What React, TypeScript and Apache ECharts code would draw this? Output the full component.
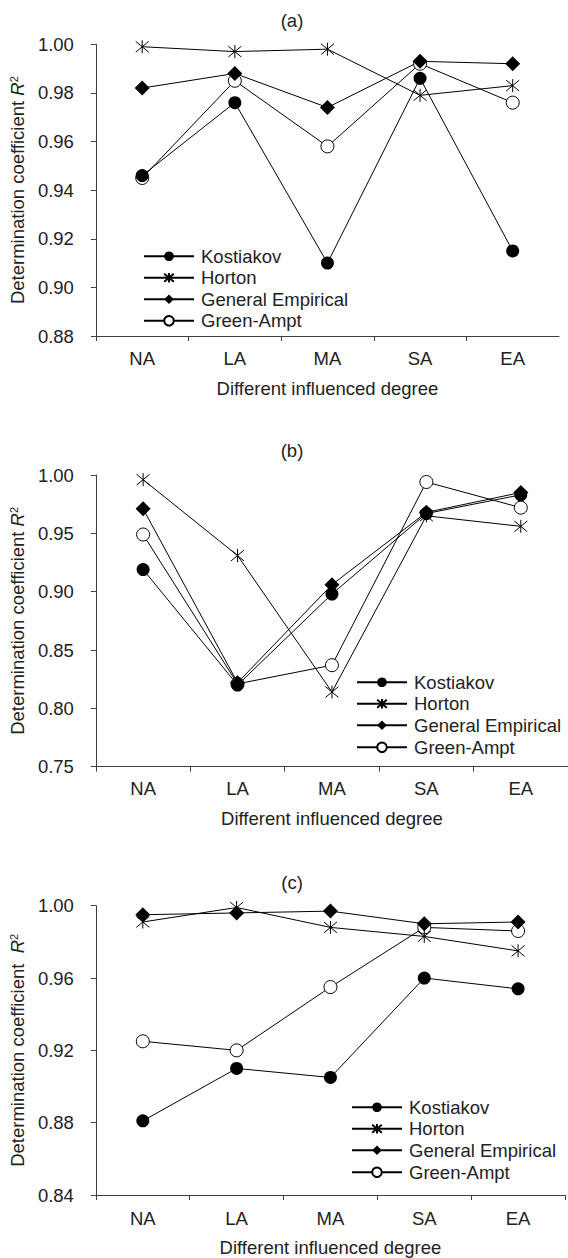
import React, { useEffect, useRef } from "react";
import * as echarts from "echarts";

const CATEGORIES = ["NA", "LA", "MA", "SA", "EA"];
const SERIES_NAMES = ["Kostiakov", "Horton", "General Empirical", "Green-Ampt"];
const PANEL_TITLES = ["(a)", "(b)", "(c)"];
const X_NAME = "Different influenced degree";

// Panel (a)
const A_KOSTIAKOV = [0.946, 0.976, 0.91, 0.986, 0.915];
const A_HORTON = [0.999, 0.997, 0.998, 0.979, 0.983];
const A_GENERAL = [0.982, 0.988, 0.974, 0.993, 0.992];
const A_GREEN = [0.945, 0.985, 0.958, 0.992, 0.976];
const A_Y = { min: 0.88, max: 1.0, interval: 0.02 };

// Panel (b)
const B_KOSTIAKOV = [0.919, 0.82, 0.898, 0.967, 0.983];
const B_HORTON = [0.996, 0.931, 0.814, 0.965, 0.956];
const B_GENERAL = [0.971, 0.822, 0.906, 0.968, 0.985];
const B_GREEN = [0.949, 0.821, 0.837, 0.994, 0.972];
const B_Y = { min: 0.75, max: 1.0, interval: 0.05 };

// Panel (c)
const C_KOSTIAKOV = [0.881, 0.91, 0.905, 0.96, 0.954];
const C_HORTON = [0.991, 0.999, 0.988, 0.983, 0.975];
const C_GENERAL = [0.995, 0.996, 0.997, 0.99, 0.991];
const C_GREEN = [0.925, 0.92, 0.955, 0.988, 0.986];
const C_Y = { min: 0.84, max: 1.0, interval: 0.04 };

const FONT = "'Liberation Sans', Arial, Helvetica, sans-serif";
const FS = 18.5;
const TXT = "#222";
const AX = "#404040";
const STAR = "path://M0,0L10,10M10,0L0,10M5,-1L5,11";

export default function App() {
  const ref = useRef<HTMLDivElement>(null);

  useEffect(() => {
    if (!ref.current) return;
    const chart = echarts.init(ref.current, null, { renderer: "svg" });

    const panels = [
      { k: A_KOSTIAKOV, h: A_HORTON, g: A_GENERAL, ga: A_GREEN, y: A_Y, grid: { left: 95, top: 44.3, width: 464, height: 291.7 }, legend: { left: 143, rows: [256, 277.5, 299, 320.5] }, title: { x: 292, y: 20 }, yName: "Determination coefficient {i|R}{s|2}", lm: 13, ng: 43 },
      { k: B_KOSTIAKOV, h: B_HORTON, g: B_GENERAL, ga: B_GREEN, y: B_Y, grid: { left: 95, top: 475, width: 474, height: 291.7 }, legend: { left: 356, rows: [682, 703.5, 725, 747] }, title: { x: 292, y: 450 }, yName: "Determination coefficient {i|R}{s|2}", lm: 12, ng: 42 },
      { k: C_KOSTIAKOV, h: C_HORTON, g: C_GENERAL, ga: C_GREEN, y: C_Y, grid: { left: 95, top: 905.7, width: 470, height: 291.3 }, legend: { left: 351, rows: [1107, 1128.5, 1150, 1172] }, title: { x: 292, y: 882 }, yName: "Determination coefficient  {i|R}{s|2}", lm: 13.5, ng: 43 },
    ];

    const grids: any[] = [];
    const xAxes: any[] = [];
    const yAxes: any[] = [];
    const series: any[] = [];
    const legends: any[] = [];
    const graphics: any[] = [];

    panels.forEach((p, i) => {
      grids.push({ ...p.grid, containLabel: false });
      xAxes.push({
        type: "category",
        gridIndex: i,
        data: CATEGORIES,
        boundaryGap: true,
        axisLine: { lineStyle: { color: AX, width: 1 } },
        axisTick: { show: true, length: 5, interval: 0, lineStyle: { color: AX, width: 1 } },
        axisLabel: { margin: p.lm, fontSize: FS, fontFamily: FONT, color: TXT },
        splitLine: { show: false },
        name: X_NAME,
        nameLocation: "middle",
        nameGap: p.ng,
        nameTextStyle: { fontSize: FS, fontFamily: FONT, color: TXT },
      });
      yAxes.push({
        type: "value",
        gridIndex: i,
        min: p.y.min,
        max: p.y.max,
        interval: p.y.interval,
        axisLine: { show: true, lineStyle: { color: AX, width: 1 } },
        axisTick: { show: true, length: 5, lineStyle: { color: AX, width: 1 } },
        axisLabel: {
          margin: 22,
          fontSize: FS,
          fontFamily: FONT,
          color: TXT,
          formatter: (v: number) => v.toFixed(2),
        },
        splitLine: { show: false },
        name: p.yName,
        nameLocation: "middle",
        nameGap: 66,
        nameTextStyle: {
          fontSize: FS,
          fontFamily: FONT,
          color: TXT,
          rich: {
            i: { fontSize: FS, fontFamily: FONT, color: TXT, fontStyle: "italic" },
            s: { fontSize: 11, fontFamily: FONT, color: TXT, verticalAlign: "top", lineHeight: FS },
          },
        },
      });

      const base = {
        type: "line",
        xAxisIndex: i,
        yAxisIndex: i,
        lineStyle: { color: "#000", width: 1 },
        emphasis: { disabled: true },
      };
      series.push({
        ...base,
        name: SERIES_NAMES[3],
        data: p.ga,
        symbol: "circle",
        symbolSize: 13,
        itemStyle: { color: "#fff", borderColor: "#000", borderWidth: 1 },
      });
      series.push({
        ...base,
        name: SERIES_NAMES[0],
        data: p.k,
        symbol: "circle",
        symbolSize: 13,
        itemStyle: { color: "#000", borderColor: "#000", borderWidth: 0 },
      });
      series.push({
        ...base,
        name: SERIES_NAMES[1],
        data: p.h,
        symbol: STAR,
        symbolSize: 13,
        itemStyle: { color: "#000", borderColor: "#000", borderWidth: 1 },
      });
      series.push({
        ...base,
        name: SERIES_NAMES[2],
        data: p.g,
        symbol: "diamond",
        symbolSize: 15,
        itemStyle: { color: "#000", borderColor: "#000", borderWidth: 0 },
      });

      SERIES_NAMES.forEach((nm, r) => {
        legends.push({
          data: [nm],
          orient: "vertical",
          left: p.legend.left,
          top: p.legend.rows[r] - FS / 2,
          padding: 0,
          itemWidth: 50,
          itemHeight: 12,
          selectedMode: false,
          textStyle: { fontSize: FS, fontFamily: FONT, color: TXT, padding: [0, 0, 0, 2] },
        });
      });

      graphics.push({
        type: "text",
        x: p.title.x,
        y: p.title.y,
        style: {
          text: PANEL_TITLES[i],
          fontSize: FS,
          fontFamily: FONT,
          fill: TXT,
          align: "center",
          verticalAlign: "middle",
          textAlign: "center",
          textVerticalAlign: "middle",
        },
      });
    });

    chart.setOption({
      animation: false,
      backgroundColor: "#fff",
      grid: grids,
      xAxis: xAxes,
      yAxis: yAxes,
      legend: legends,
      series,
      graphic: graphics,
    });

    return () => chart.dispose();
  }, []);

  return (
    <div
      ref={ref}
      style={{ position: "absolute", left: 0, top: 0, width: 568, height: 1258 }}
    />
  );
}
